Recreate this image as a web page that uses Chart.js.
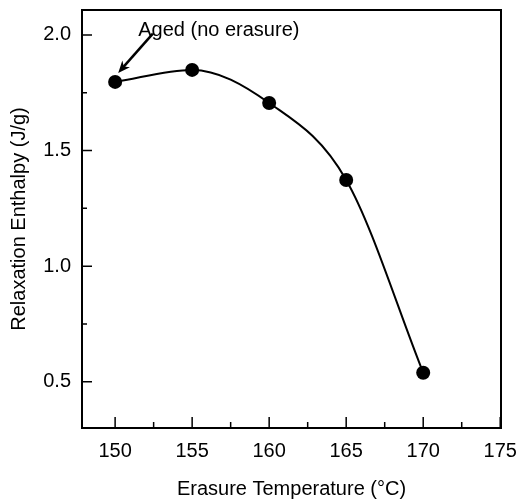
<!DOCTYPE html>
<html>
<head>
<meta charset="utf-8">
<script src="https://cdn.jsdelivr.net/npm/chart.js@4.4.0/dist/chart.umd.min.js"></script>
<style>
    html, body { margin: 0; padding: 0; background: #ffffff; }
    #chart_box { width: 520px; height: 501px; }
</style>
</head>
<body>
<div id="chart_box"><canvas id="enthalpy_chart"></canvas></div>
<script>

// Data
const erasure_temps = [150, 155, 160, 165, 170];
const relax_enthalpy = [1.797, 1.849, 1.706, 1.373, 0.539];

const x_major_ticks = [150, 155, 160, 165, 170, 175];
const x_minor_ticks = [152.5, 157.5, 162.5, 167.5, 172.5];
const y_major_ticks = [0.5, 1.0, 1.5, 2.0];
const y_minor_ticks = [0.75, 1.25, 1.75];

const note_text = "Aged (no erasure)";

const font_family = "'Liberation Sans', Arial, Helvetica, sans-serif";

function drawFrameAndTicks(chart) {
    /* Box round the plot area plus the inward pointing tick marks. */
    const ctx = chart.ctx;
    const area = chart.chartArea;
    const x_scale = chart.scales.x;
    const y_scale = chart.scales.y;

    ctx.save();
    ctx.strokeStyle = "#000";
    ctx.lineWidth = 2;
    ctx.strokeRect(area.left, area.top, area.right - area.left, area.bottom - area.top);

    ctx.lineWidth = 1.5;
    ctx.beginPath();
    x_major_ticks.forEach(v => {
        const px = x_scale.getPixelForValue(v);
        ctx.moveTo(px, area.bottom);
        ctx.lineTo(px, area.bottom - 11);
    });
    x_minor_ticks.forEach(v => {
        const px = x_scale.getPixelForValue(v);
        ctx.moveTo(px, area.bottom);
        ctx.lineTo(px, area.bottom - 6);
    });
    y_major_ticks.forEach(v => {
        const py = y_scale.getPixelForValue(v);
        ctx.moveTo(area.left, py);
        ctx.lineTo(area.left + 10, py);
    });
    y_minor_ticks.forEach(v => {
        const py = y_scale.getPixelForValue(v);
        ctx.moveTo(area.left, py);
        ctx.lineTo(area.left + 5, py);
    });
    ctx.stroke();
    ctx.restore();
}

function drawNote(chart) {
    /* Text label with an arrow pointing at the aged sample. */
    const ctx = chart.ctx;
    const x_scale = chart.scales.x;
    const y_scale = chart.scales.y;

    const text_x = x_scale.getPixelForValue(151.5);
    const text_y = y_scale.getPixelForValue(1.996);
    const tail_x = x_scale.getPixelForValue(152.45);
    const tail_y = y_scale.getPixelForValue(2.006);
    const tip_x = x_scale.getPixelForValue(150.2);
    const tip_y = y_scale.getPixelForValue(1.836);

    ctx.save();
    ctx.fillStyle = "#000";
    ctx.strokeStyle = "#000";
    ctx.font = "20px " + font_family;
    ctx.textAlign = "left";
    ctx.textBaseline = "alphabetic";
    ctx.fillText(note_text, text_x, text_y);

    const angle = Math.atan2(tip_y - tail_y, tip_x - tail_x);
    const head = 13;
    ctx.lineWidth = 2.5;
    ctx.beginPath();
    ctx.moveTo(tail_x, tail_y);
    ctx.lineTo(tip_x - Math.cos(angle) * 5, tip_y - Math.sin(angle) * 5);
    ctx.stroke();

    ctx.beginPath();
    ctx.moveTo(tip_x, tip_y);
    ctx.lineTo(tip_x - head * Math.cos(angle - 0.4), tip_y - head * Math.sin(angle - 0.4));
    ctx.lineTo(tip_x - head * 0.65 * Math.cos(angle), tip_y - head * 0.65 * Math.sin(angle));
    ctx.lineTo(tip_x - head * Math.cos(angle + 0.4), tip_y - head * Math.sin(angle + 0.4));
    ctx.closePath();
    ctx.fill();
    ctx.restore();
}

function noEdgePadding(scale) {
    // the edge labels never reach the canvas border here, so drop the auto padding
    scale.paddingTop = 0;
    scale.paddingBottom = 0;
    scale.paddingLeft = 0;
    scale.paddingRight = 0;
}

const extras_plugin = {
    id: "extras",
    afterDatasetsDraw(chart) {
        drawFrameAndTicks(chart);
        drawNote(chart);
    }
};

const chart_data = erasure_temps.map((t, i) => ({x: t, y: relax_enthalpy[i]}));

const chart = new Chart("enthalpy_chart", {
    type: "line",
    data: {
        datasets: [{
            data: chart_data,
            borderColor: "#000",
            backgroundColor: "#000",
            borderWidth: 2,
            pointRadius: 7,
            pointBorderWidth: 0,
            cubicInterpolationMode: "monotone",
            fill: false
        }]
    },
    options: {
        responsive: true,
        maintainAspectRatio: false,
        animation: false,
        layout: {
            padding: {top: 10, right: 19, left: 0, bottom: 0}
        },
        plugins: {
            legend: {display: false},
            tooltip: {enabled: false}
        },
        scales: {
            x: {
                type: "linear",
                min: 147.85,
                max: 175.05,
                afterFit: (scale) => { scale.height = 73; noEdgePadding(scale); },
                afterBuildTicks: (scale) => { scale.ticks = x_major_ticks.map(v => ({value: v})); },
                grid: {display: false, drawTicks: false},
                border: {display: false},
                ticks: {
                    color: "#000",
                    padding: 11,
                    font: {family: font_family, size: 20},
                    maxRotation: 0
                },
                title: {
                    display: true,
                    text: "Erasure Temperature (°C)",
                    color: "#000",
                    font: {family: font_family, size: 20},
                    padding: {top: 8, bottom: 0}
                }
            },
            y: {
                type: "linear",
                min: 0.3,
                max: 2.108,
                afterFit: (scale) => { scale.width = 82; noEdgePadding(scale); },
                afterBuildTicks: (scale) => { scale.ticks = y_major_ticks.map(v => ({value: v})); },
                grid: {display: false, drawTicks: false},
                border: {display: false},
                ticks: {
                    color: "#000",
                    padding: 11,
                    font: {family: font_family, size: 20},
                    callback: (v) => v.toFixed(1)
                },
                title: {
                    display: true,
                    text: "Relaxation Enthalpy (J/g)",
                    color: "#000",
                    font: {family: font_family, size: 20},
                    padding: {top: 7, bottom: 0}
                }
            }
        }
    },
    plugins: [extras_plugin]
});

</script>
</body>
</html>
